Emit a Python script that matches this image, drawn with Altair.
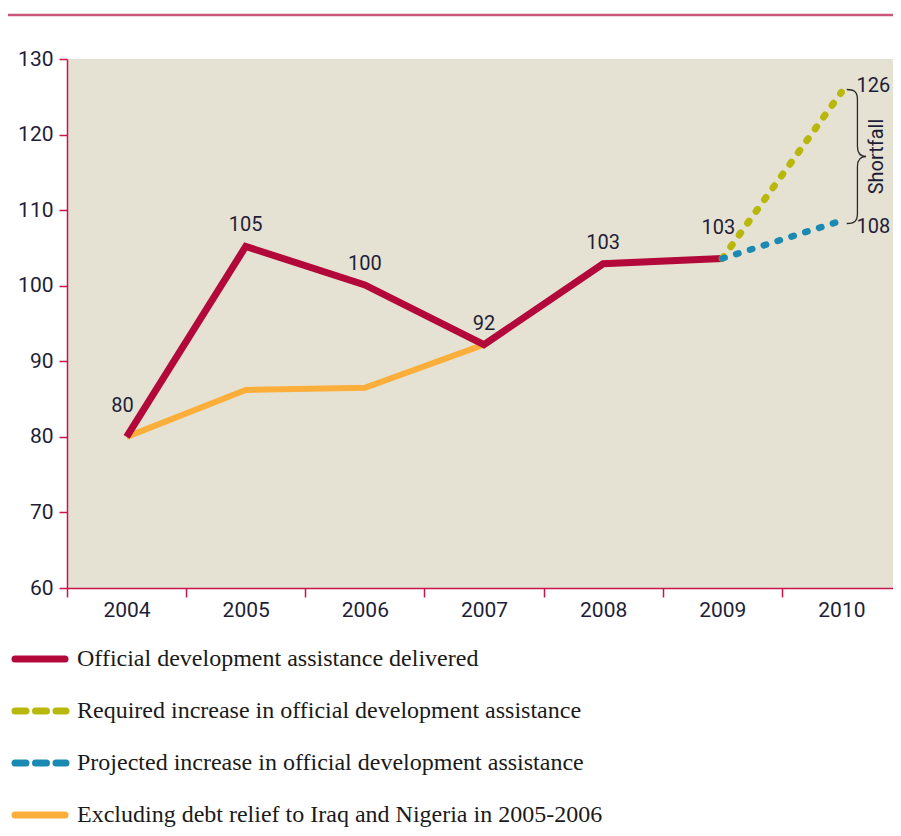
import altair as alt
import pandas as pd

# ---------------- data ----------------
years = ["2004", "2005", "2006", "2007", "2008", "2009", "2010"]

delivered_years = ["2004", "2005", "2006", "2007", "2008", "2009"]
delivered = [80, 105.2, 100.1, 92.2, 102.9, 103.6]
delivered_labels = ["80", "105", "100", "92", "103", "103"]

excluding_years = ["2004", "2005", "2006", "2007"]
excluding = [80, 86.2, 86.5, 92.2]

future_years = ["2009", "2010"]
required = [103.6, 125.6]
projected = [103.6, 108.6]
required_label = "126"
projected_label = "108"
shortfall_text = "Shortfall"

legend_keys = ["delivered", "required", "projected", "excluding"]
legend_labels = [
    "Official development assistance delivered",
    "Required increase in official development assistance",
    "Projected increase in official development assistance",
    "Excluding debt relief to Iraq and Nigeria in 2005-2006",
]

# ---------------- style ----------------
RED = "#b3083a"
ORANGE = "#fbae3a"
GREEN = "#b8b80c"
BLUE = "#1b8ab2"
AXIS_C = "#c8164a"
TOP_RULE_C = "#c9577a"
BG = "#e6e2d3"
LABEL_C = "#1e1e38"
NARROW = "Liberation Sans Narrow, Arial Narrow, Roboto, sans-serif"
SERIF = "Liberation Serif, Times New Roman, serif"

W, H = 826, 529

xscale = alt.Scale(type="band", domain=years, range=[0, 834], paddingInner=0, paddingOuter=0)
yscale = alt.Scale(domain=[60, 130], nice=False, zero=False)

xaxis = alt.Axis(title=None, labelAngle=0, tickBand="extent", tickSize=9, tickWidth=1.5,
                 tickColor=AXIS_C, domainColor=AXIS_C, domainWidth=1.5,
                 labelFont=NARROW, labelFontSize=21, labelColor=LABEL_C, labelPadding=2,
                 grid=False)
yaxis = alt.Axis(title=None, values=[60, 70, 80, 90, 100, 110, 120, 130], tickSize=8,
                 tickWidth=1.5, tickColor=AXIS_C, domainColor=AXIS_C, domainWidth=1.5,
                 labelFont=NARROW, labelFontSize=21, labelColor=LABEL_C, labelPadding=6,
                 grid=False)

def X():
    return alt.X("year:O", scale=xscale, axis=xaxis)

def Y():
    return alt.Y("value:Q", scale=yscale, axis=yaxis)

df_del = pd.DataFrame({"year": delivered_years, "value": delivered, "text": delivered_labels})
df_exc = pd.DataFrame({"year": excluding_years, "value": excluding})
df_req = pd.DataFrame({"year": future_years, "value": required})
df_proj = pd.DataFrame({"year": future_years, "value": projected})
df_end = pd.DataFrame({
    "year": [future_years[-1]],
    "value": [(required[-1] + projected[-1]) / 2],
    "text": [shortfall_text],
})
df_req_lab = pd.DataFrame({"year": [future_years[-1]], "value": [required[-1]], "text": [required_label]})
df_proj_lab = pd.DataFrame({"year": [future_years[-1]], "value": [projected[-1]], "text": [projected_label]})

top_rule = alt.Chart(pd.DataFrame({"a": [0]})).mark_rule(
    color=TOP_RULE_C, strokeWidth=2.5
).encode(x=alt.value(-59), x2=alt.value(W), y=alt.value(-44))

orange_line = alt.Chart(df_exc).mark_line(color=ORANGE, strokeWidth=6).encode(x=X(), y=Y())
red_line = alt.Chart(df_del).mark_line(color=RED, strokeWidth=7).encode(x=X(), y=Y())
green_line = alt.Chart(df_req).mark_line(
    color=GREEN, strokeWidth=7, strokeDash=[2.5, 12], strokeCap="round"
).encode(x=X(), y=Y())
blue_line = alt.Chart(df_proj).mark_line(
    color=BLUE, strokeWidth=6.5, strokeDash=[2.5, 12], strokeCap="round"
).encode(x=X(), y=Y())

lab_kw = dict(font=NARROW, fontSize=20, color=LABEL_C, baseline="middle", align="center")
mid_labels = alt.Chart(df_del).transform_filter(
    "datum.year != '2004' && datum.year != '2009'"
).mark_text(dy=-21, **lab_kw).encode(x=X(), y=Y(), text="text:N")
end_labels = alt.Chart(df_del).transform_filter(
    "datum.year == '2004' || datum.year == '2009'"
).mark_text(dy=-31, dx=-4, **lab_kw).encode(x=X(), y=Y(), text="text:N")
req_label = alt.Chart(df_req_lab).mark_text(xOffset=32, dy=-6, **lab_kw).encode(
    x=X(), y=Y(), text="text:N")
proj_label = alt.Chart(df_proj_lab).mark_text(xOffset=32, dy=6, **lab_kw).encode(
    x=X(), y=Y(), text="text:N")

BRACE = ("M -0.16 -1 C -0.05 -1 0 -0.97 0 -0.85 L 0 -0.15 C 0 -0.05 0.05 0 0.13 0 "
         "C 0.05 0 0 0.05 0 0.15 L 0 0.85 C 0 0.97 -0.05 1 -0.16 1")
brace = alt.Chart(df_end).mark_point(
    shape=BRACE, size=17956, filled=False, stroke="#2a2a2a", strokeWidth=1.3,
    xOffset=16, opacity=1
).encode(x=X(), y=Y())
shortfall = alt.Chart(df_end).mark_text(
    angle=270, xOffset=36, font=NARROW, fontSize=20, color=LABEL_C,
    baseline="middle", align="center"
).encode(x=X(), y=Y(), text="text:N")

main = alt.layer(top_rule, orange_line, red_line, green_line, blue_line,
                 mid_labels, end_labels, req_label, proj_label, brace, shortfall)

# ---------------- custom legend ----------------
df_leg = pd.DataFrame({"key": legend_keys, "label": legend_labels,
                       "idx": list(range(len(legend_keys)))})
leg_y = alt.Y("idx:Q", scale=alt.Scale(domain=[0, 3], range=[600, 756]), axis=None)
leg_color = alt.Color("key:N", scale=alt.Scale(domain=legend_keys,
                                               range=[RED, GREEN, BLUE, ORANGE]), legend=None)
dash_test = "indexof(['required','projected'], datum.key) >= 0"
leg_solid = alt.Chart(df_leg).transform_filter("!(" + dash_test + ")").mark_rule(
    strokeWidth=7, strokeCap="round"
).encode(x=alt.value(-52), x2=alt.value(-2), y=leg_y, color=leg_color)
leg_dash = alt.Chart(df_leg).transform_filter(dash_test).mark_rule(
    strokeWidth=7, strokeCap="round", strokeDash=[11, 9.5]
).encode(x=alt.value(-52), x2=alt.value(-1), y=leg_y, color=leg_color)
leg_text = alt.Chart(df_leg).mark_text(
    align="left", baseline="middle", font=SERIF, fontSize=24, color="#1a1a1a"
).encode(x=alt.value(10), y=leg_y, text="label:N")
legend = alt.layer(leg_solid, leg_dash, leg_text)

chart = alt.layer(main, legend).resolve_scale(y="independent").properties(
    width=W, height=H,
    autosize=alt.AutoSizeParams(type="none"),
    padding={"left": 59, "top": 51, "right": 0, "bottom": 240},
    background="white",
).configure_view(fill=BG, stroke=None)

chart.save("out.html", embed_options={"renderer": "svg", "actions": False})
